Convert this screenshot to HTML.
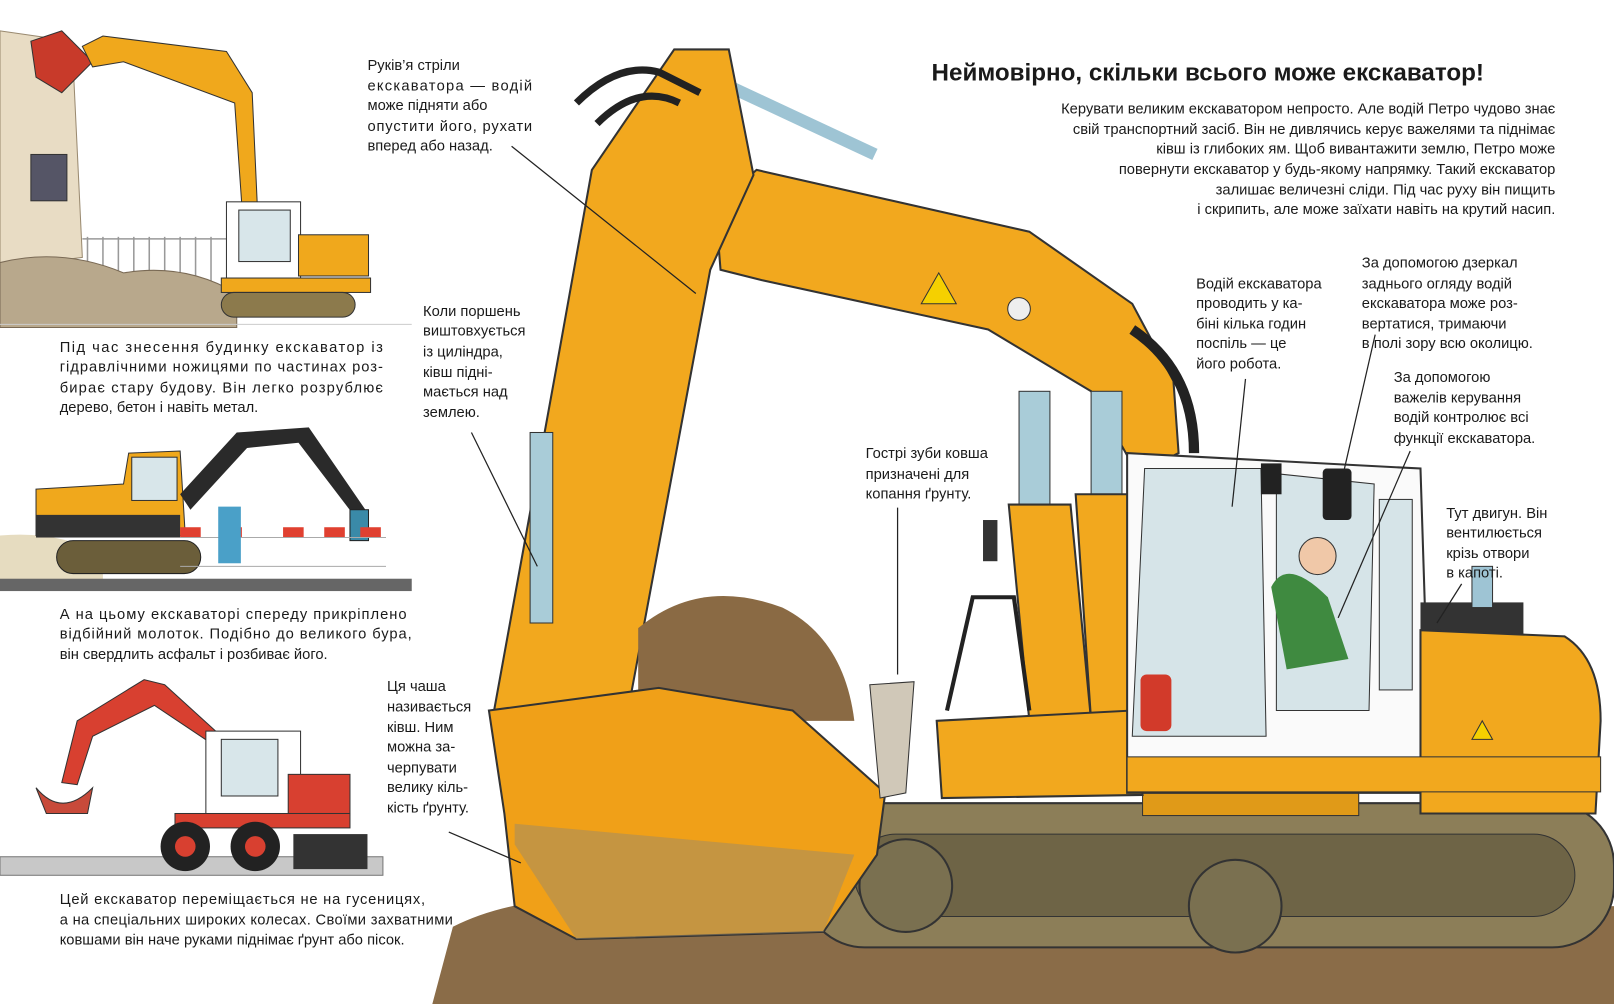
<!DOCTYPE html>
<html><head><meta charset="utf-8"><style>
html,body{margin:0;padding:0;background:#fff;width:1614px;height:1004px;overflow:hidden}
svg{display:block}
text{font-family:"Liberation Sans","DejaVu Sans",sans-serif;font-size:14.3px;fill:#1a1a1a}
.t{font-size:23.5px;font-weight:bold}
</style></head><body>
<svg width="1614" height="1004" viewBox="0 0 1568 975" preserveAspectRatio="none" xmlns="http://www.w3.org/2000/svg">
<rect width="1568" height="975" fill="#fff"/>

<!-- ===== top-left demolition scene ===== -->
<path d="M0,30 L70,40 L80,250 L0,260Z" fill="#e8dcc4" stroke="#9a8a70"/>
<rect x="30" y="150" width="35" height="45" fill="#556" stroke="#333"/>
<path d="M30,40 L60,30 L90,60 L60,90 L35,75Z" fill="#c83a2a" stroke="#333"/>
<g stroke="#999" stroke-width="1.5">
<line x1="85" y1="230" x2="85" y2="290"/><line x1="100" y1="230" x2="100" y2="290"/><line x1="115" y1="230" x2="115" y2="290"/><line x1="130" y1="230" x2="130" y2="290"/><line x1="145" y1="230" x2="145" y2="290"/><line x1="160" y1="230" x2="160" y2="290"/><line x1="175" y1="230" x2="175" y2="290"/><line x1="190" y1="230" x2="190" y2="290"/><line x1="205" y1="230" x2="205" y2="290"/>
<line x1="80" y1="232" x2="225" y2="232"/></g>
<path d="M0,255 Q60,240 120,265 Q180,255 230,285 L230,318 L0,318Z" fill="#b8a88c" stroke="#7a6a55"/>
<path d="M80,45 L100,35 L220,50 L245,90 L250,200 L235,200 L228,100 L120,60 L90,65Z" fill="#f0a81c" stroke="#333"/>
<rect x="220" y="196" width="72" height="75" fill="#fff" stroke="#333"/>
<rect x="232" y="204" width="50" height="50" fill="#d8e6ea" stroke="#333"/>
<rect x="290" y="228" width="68" height="40" fill="#f0a81c" stroke="#333"/>
<rect x="215" y="270" width="145" height="14" fill="#f0a81c" stroke="#333"/>
<rect x="215" y="284" width="130" height="24" rx="12" fill="#8c7a4c" stroke="#333"/>
<line x1="0" y1="315" x2="400" y2="315" stroke="#ccc"/>

<!-- ===== middle jackhammer scene ===== -->
<path d="M0,520 Q60,515 100,540 L100,570 L0,570Z" fill="#e6dcc0"/>
<rect x="0" y="562" width="400" height="12" fill="#666"/>
<path d="M35,475 L120,470 L125,440 L175,438 L180,520 L35,520Z" fill="#f0a81c" stroke="#333"/>
<rect x="35" y="500" width="140" height="22" fill="#333"/>
<rect x="128" y="444" width="44" height="42" fill="#d8e6ea" stroke="#333"/>
<path d="M175,480 L230,420 L300,415 L355,495 L345,502 L290,430 L240,435 L185,495Z" fill="#2a2a2a"/>
<rect x="340" y="495" width="18" height="30" fill="#3a8aa8" stroke="#222"/>
<rect x="55" y="525" width="140" height="32" rx="16" fill="#6b5e3a" stroke="#222"/>
<g fill="#e04030"><rect x="175" y="512" width="20" height="10"/><rect x="215" y="512" width="20" height="10"/><rect x="275" y="512" width="20" height="10"/><rect x="315" y="512" width="20" height="10"/><rect x="350" y="512" width="20" height="10"/></g>
<g stroke="#aaa"><line x1="175" y1="522" x2="375" y2="522"/><line x1="175" y1="550" x2="375" y2="550"/></g>
<rect x="212" y="492" width="22" height="55" fill="#4aa0c8"/>

<!-- ===== bottom red wheeled scene ===== -->
<rect x="0" y="832" width="372" height="18" fill="#c8c8c8" stroke="#777"/>
<path d="M35,765 Q60,795 90,765 L85,790 L45,790Z" fill="#c84a3a" stroke="#333"/>
<path d="M60,760 L75,700 L140,660 L160,665 L215,715 L210,725 L150,685 L90,715 L75,762Z" fill="#d84030" stroke="#333"/>
<rect x="200" y="710" width="92" height="82" fill="#fff" stroke="#333"/>
<rect x="215" y="718" width="55" height="55" fill="#d8e6ea" stroke="#333"/>
<rect x="280" y="752" width="60" height="40" fill="#d84030" stroke="#333"/>
<rect x="170" y="790" width="170" height="14" fill="#d84030" stroke="#333"/>
<circle cx="180" cy="822" r="24" fill="#222"/><circle cx="180" cy="822" r="10" fill="#d84030"/>
<circle cx="248" cy="822" r="24" fill="#222"/><circle cx="248" cy="822" r="10" fill="#d84030"/>
<rect x="285" y="810" width="72" height="34" fill="#333"/>

<!-- ===== main excavator ===== -->
<path d="M440,900 Q520,860 640,880 Q800,860 1000,900 L1568,880 L1568,975 L420,975Z" fill="#8a6c48"/>
<rect x="780" y="780" width="788" height="140" rx="60" fill="#8c7e58" stroke="#333" stroke-width="2"/>
<rect x="830" y="810" width="700" height="80" rx="40" fill="#6e6446" stroke="#333"/>
<circle cx="880" cy="860" r="45" fill="#7a7050" stroke="#333" stroke-width="2"/>
<circle cx="1200" cy="880" r="45" fill="#7a7050" stroke="#333" stroke-width="2"/>
<rect x="1110" y="770" width="210" height="22" fill="#e09a18" stroke="#333"/>
<!-- boom -->
<path d="M695,200 L735,165 L1000,225 L1100,295 L1140,370 L1145,440 L1105,460 L1060,380 L960,320 L740,272 L700,262Z" fill="#f2a81e" stroke="#333" stroke-width="2"/>
<path d="M700,80 L850,150" stroke="#9ec4d4" stroke-width="12"/>
<rect x="990" y="380" width="30" height="120" fill="#a9ccd8" stroke="#333"/>
<rect x="1060" y="380" width="30" height="110" fill="#a9ccd8" stroke="#333"/>
<path d="M980,490 L1040,490 L1060,700 L1000,700Z" fill="#f2a81e" stroke="#333" stroke-width="2"/>
<path d="M1045,480 L1100,480 L1110,700 L1060,700Z" fill="#f2a81e" stroke="#333" stroke-width="2"/>
<path d="M1100,320 Q1160,360 1160,440" stroke="#222" stroke-width="10" fill="none"/>
<path d="M895,295 L912,265 L929,295Z" fill="#f5d000" stroke="#333"/>
<circle cx="990" cy="300" r="11" fill="#eee" stroke="#333"/>
<!-- stick -->
<path d="M575,165 L655,48 L708,48 L732,170 L690,262 L612,680 L502,700 L480,690 L540,360Z" fill="#f2a81e" stroke="#333" stroke-width="2"/>
<path d="M560,100 Q600,60 640,70 L680,90 M580,120 Q620,80 660,100" stroke="#222" stroke-width="7" fill="none"/>
<rect x="515" y="420" width="22" height="185" fill="#a9ccd8" stroke="#333"/>
<!-- bucket -->
<path d="M620,610 Q680,560 760,590 Q820,620 830,700 L620,700Z" fill="#8a6a44"/>
<path d="M475,690 L640,668 L770,690 L860,770 L852,830 L800,905 L560,912 L500,880 L490,790Z" fill="#f0a018" stroke="#333" stroke-width="2"/>
<path d="M500,820 L560,912 L800,905 L830,830 L500,800Z" fill="#9a8a6a" opacity="0.5"/>
<path d="M845,665 L888,662 L880,770 L855,775Z" fill="#d0c8b8" stroke="#333"/>
<!-- base & ladder -->
<path d="M910,700 L1100,690 L1110,772 L915,775Z" fill="#f2a81e" stroke="#333" stroke-width="2"/>
<path d="M920,690 L945,580 L985,580 L1000,690" fill="none" stroke="#222" stroke-width="4"/>
<rect x="955" y="505" width="14" height="40" fill="#333"/>
<!-- cab -->
<path d="M1095,440 L1380,455 L1390,770 L1095,770Z" fill="#fafafa" stroke="#333" stroke-width="2"/>
<path d="M1112,455 L1225,455 L1230,715 L1100,715Z" fill="#d6e4e8" stroke="#333"/>
<path d="M1240,460 L1335,470 L1330,690 L1240,690Z" fill="#d6e4e8" stroke="#333"/>
<rect x="1340" y="485" width="32" height="185" fill="#d6e4e8" stroke="#333"/>
<path d="M1235,570 Q1250,540 1290,580 L1310,640 L1250,650Z" fill="#3f8a40"/>
<circle cx="1280" cy="540" r="18" fill="#f0c8a8" stroke="#333"/>
<rect x="1285" y="455" width="28" height="50" rx="4" fill="#222"/>
<rect x="1225" y="450" width="20" height="30" fill="#222"/>
<rect x="1108" y="655" width="30" height="55" rx="6" fill="#d23a2a"/>
<!-- engine -->
<rect x="1380" y="585" width="100" height="32" fill="#333"/>
<rect x="1430" y="550" width="20" height="40" fill="#9ec4d4" stroke="#333"/>
<path d="M1380,612 L1520,618 Q1555,640 1555,700 L1550,790 L1380,790Z" fill="#f2a81e" stroke="#333" stroke-width="2"/>
<path d="M1430,718 L1440,700 L1450,718Z" fill="#f5d000" stroke="#333"/>
<rect x="1095" y="735" width="460" height="34" fill="#f2a81e" stroke="#333"/>

<!-- ===== leader lines ===== -->
<g stroke="#222" stroke-width="1.2">
<line x1="497" y1="142" x2="676" y2="285"/>
<line x1="458" y1="420" x2="522" y2="550"/>
<line x1="436" y1="808" x2="506" y2="838"/>
<line x1="872" y1="493" x2="872" y2="655"/>
<line x1="1210" y1="368" x2="1197" y2="492"/>
<line x1="1336" y1="325" x2="1305" y2="460"/>
<line x1="1370" y1="438" x2="1300" y2="600"/>
<line x1="1420" y1="567" x2="1396" y2="605"/>
</g>

<!-- ===== texts ===== -->
<text class="t" x="905" y="78">Неймовірно, скільки всього може екскаватор!</text>
<g text-anchor="end">
<text x="1511" y="110">Керувати великим екскаватором непросто. Але водій Петро чудово знає</text>
<text x="1511" y="130">свій транспортний засіб. Він не дивлячись керує важелями та піднімає</text>
<text x="1511" y="149">ківш із глибоких ям. Щоб вивантажити землю, Петро може</text>
<text x="1511" y="169">повернути екскаватор у будь-якому напрямку. Такий екскаватор</text>
<text x="1511" y="189">залишає величезні сліди. Під час руху він пищить</text>
<text x="1511" y="208">і скрипить, але може заїхати навіть на крутий насип.</text>
</g>
<text x="357" y="68">Руків’я стріли</text>
<text x="357" y="88" textLength="160">екскаватора — водій</text>
<text x="357" y="107">може підняти або</text>
<text x="357" y="127" textLength="160">опустити його, рухати</text>
<text x="357" y="146">вперед або назад.</text>

<text x="411" y="307">Коли поршень</text>
<text x="411" y="326">виштовхується</text>
<text x="411" y="346">із циліндра,</text>
<text x="411" y="366">ківш підні-</text>
<text x="411" y="385">мається над</text>
<text x="411" y="405">землею.</text>

<text x="376" y="671">Ця чаша</text>
<text x="376" y="691">називається</text>
<text x="376" y="711">ківш. Ним</text>
<text x="376" y="730">можна за-</text>
<text x="376" y="750">черпувати</text>
<text x="376" y="769">велику кіль-</text>
<text x="376" y="789">кість ґрунту.</text>

<text x="841" y="445">Гострі зуби ковша</text>
<text x="841" y="465">призначені для</text>
<text x="841" y="484">копання ґрунту.</text>

<text x="1162" y="280">Водій екскаватора</text>
<text x="1162" y="299">проводить у ка-</text>
<text x="1162" y="319">біні кілька годин</text>
<text x="1162" y="338">поспіль — це</text>
<text x="1162" y="358">його робота.</text>

<text x="1323" y="260">За допомогою дзеркал</text>
<text x="1323" y="280">заднього огляду водій</text>
<text x="1323" y="299">екскаватора може роз-</text>
<text x="1323" y="319">вертатися, тримаючи</text>
<text x="1323" y="338">в полі зору всю околицю.</text>

<text x="1354" y="371">За допомогою</text>
<text x="1354" y="391">важелів керування</text>
<text x="1354" y="410">водій контролює всі</text>
<text x="1354" y="430">функції екскаватора.</text>

<text x="1405" y="503">Тут двигун. Він</text>
<text x="1405" y="522">вентилюється</text>
<text x="1405" y="542">крізь отвори</text>
<text x="1405" y="561">в капоті.</text>

<text x="58" y="342" textLength="314">Під час знесення будинку екскаватор із</text>
<text x="58" y="361" textLength="314">гідравлічними ножицями по частинах роз-</text>
<text x="58" y="381" textLength="314">бирає стару будову. Він легко розрублює</text>
<text x="58" y="400">дерево, бетон і навіть метал.</text>

<text x="58" y="601" textLength="337">А на цьому екскаваторі спереду прикріплено</text>
<text x="58" y="620" textLength="342">відбійний молоток. Подібно до великого бура,</text>
<text x="58" y="640">він свердлить асфальт і розбиває його.</text>

<text x="58" y="878" textLength="355">Цей екскаватор переміщається не на гусеницях,</text>
<text x="58" y="898" textLength="382">а на спеціальних широких колесах. Своїми захватними</text>
<text x="58" y="917">ковшами він наче руками піднімає ґрунт або пісок.</text>
</svg>
</body></html>
